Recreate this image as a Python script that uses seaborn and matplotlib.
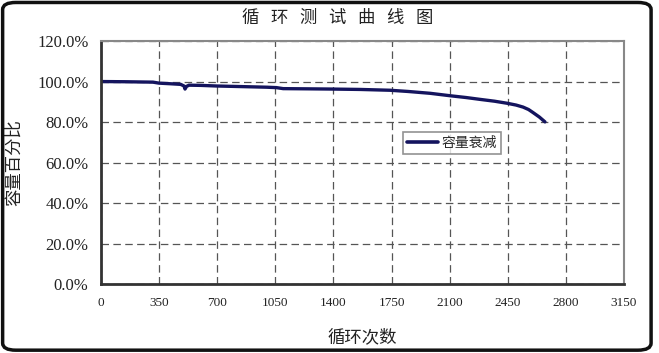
import numpy as np
import pandas as pd
import seaborn as sns
import matplotlib.pyplot as plt
from matplotlib.patches import FancyBboxPatch

# values
cycles = [0, 150, 313, 350, 420, 480, 500, 506, 515, 530, 600, 696, 850, 1000,
          1057, 1097, 1250, 1379, 1560, 1741, 1850, 1982, 2102, 2200, 2283,
          2370, 2445, 2500, 2542, 2575, 2602, 2640, 2674]
capacity = [100.0, 99.9, 99.7, 99.2, 98.9, 98.6, 97.8, 96.3, 97.6, 98.2, 98.1,
            97.8, 97.5, 97.2, 97.0, 96.5, 96.4, 96.3, 96.1, 95.7, 95.1, 94.2,
            93.0, 92.1, 91.2, 90.3, 89.3, 88.4, 87.4, 86.2, 84.7, 82.5, 80.1]
x_ticks = [0, 350, 700, 1050, 1400, 1750, 2100, 2450, 2800, 3150]
y_ticks = [0, 20, 40, 60, 80, 100, 120]

df = pd.DataFrame({'cycle': cycles, 'capacity': capacity, 'series': '容量衰减'})

sns.set_style("white")
plt.rcParams['font.family'] = ['Liberation Serif', 'Noto Sans CJK SC', 'DejaVu Sans']
cjk = ['Noto Sans CJK SC', 'DejaVu Sans']

fig = plt.figure(figsize=(6.59, 3.53), dpi=100)
ax = fig.add_axes([0.1533, 0.1946, 0.7936, 0.6893])

sns.lineplot(data=df, x='cycle', y='capacity', hue='series',
             palette=['#14145e'], linewidth=2.4, ax=ax)

ax.set_xlim(0, 3150)
ax.set_ylim(0, 120)
ax.set_xticks(x_ticks)
ax.set_yticks(y_ticks)
ax.set_yticklabels([f'{v:.1f}%' for v in y_ticks], fontsize=12)
ax.set_xticklabels([str(v) for v in x_ticks], fontsize=9.5)
ax.tick_params(axis='both', length=0, pad=9, colors='#222222')

ax.grid(True, linestyle=(0, (6, 3.5)), color='#555555', linewidth=0.9)
for side in ['left', 'bottom']:
    ax.spines[side].set_color('#333333')
    ax.spines[side].set_linewidth(2)
for side in ['top', 'right']:
    ax.spines[side].set_color('#888888')
    ax.spines[side].set_linewidth(1.5)

ax.set_xlabel('循环次数', fontsize=12.5, family=cjk, labelpad=14, color='#222222')
ax.set_ylabel('容量百分比', fontsize=12.5, family=cjk, color='#222222')
ax.yaxis.set_label_coords(-0.15, 0.5)
fig.text(0.512, 0.948, '循   环   测   试   曲   线   图', fontsize=12.5,
         family=cjk, ha='center', va='center', color='#222222')

leg = ax.legend(loc='lower left', bbox_to_anchor=(0.577, 0.535), frameon=True,
                fancybox=False, prop={'family': cjk, 'size': 10},
                handlelength=2.2, handletextpad=0.3, borderpad=0.3,
                borderaxespad=0)
leg.get_frame().set_edgecolor('#777777')
leg.get_frame().set_linewidth(1.2)
for line in leg.get_lines():
    line.set_linewidth(2.6)

border = FancyBboxPatch((0.004, 0.008), 0.984, 0.985, transform=fig.transFigure,
                        boxstyle='round,pad=0,rounding_size=0.02',
                        fill=False, edgecolor='#111111', linewidth=2.5)
fig.patches.append(border)

fig.savefig('out.png', dpi=100)
